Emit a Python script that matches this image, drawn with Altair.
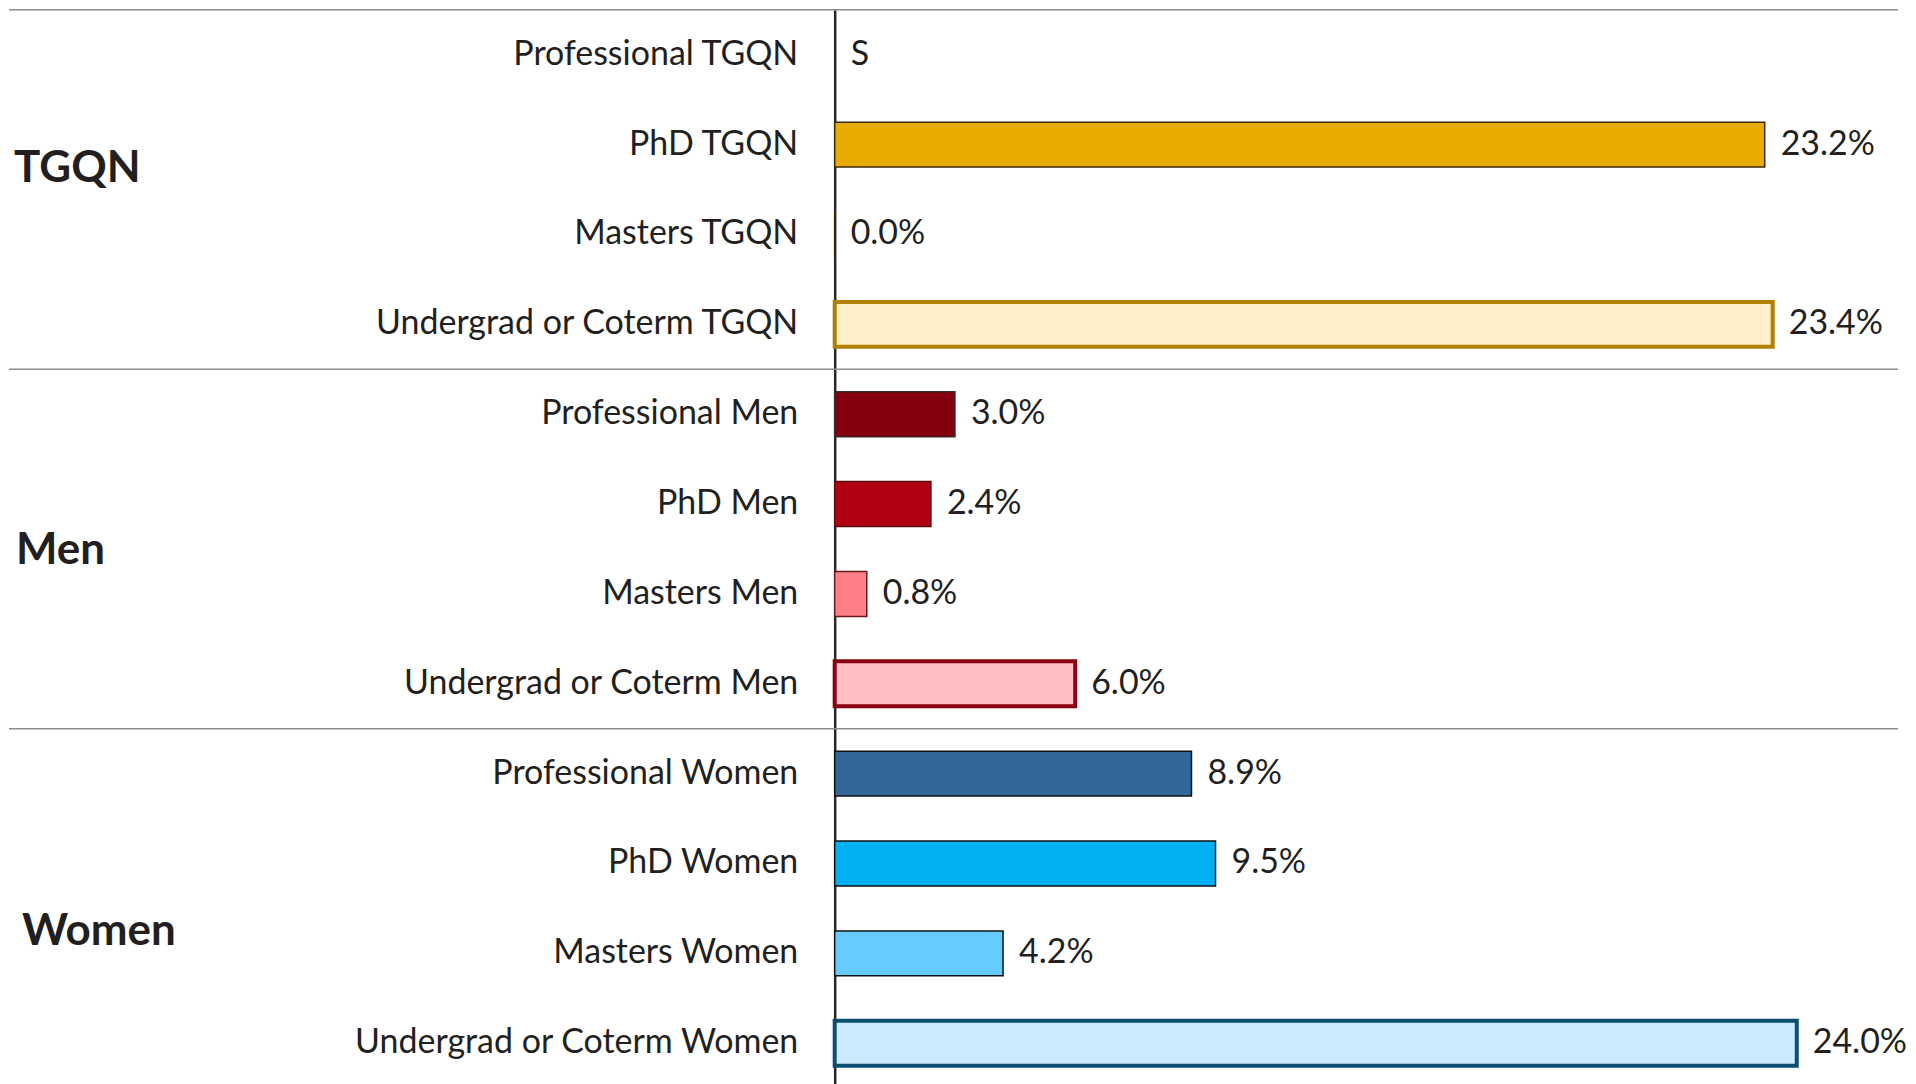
import altair as alt
import pandas as pd

# ---- data ----
groups = ["TGQN", "Men", "Women"]
levels = ["Professional", "PhD", "Masters", "Undergrad or Coterm"]
categories = [f"{lv} {g}" for g in groups for lv in levels]
values = [None, 23.2, 0.0, 23.4,
          3.0, 2.4, 0.8, 6.0,
          8.9, 9.5, 4.2, 24.0]

# ---- styles ----
fills = ["#FFFFFF", "#E8AC00", "#FFFFFF", "#FFEFC9",
         "#85000E", "#B20012", "#FF7F88", "#FFBEC3",
         "#336699", "#00B0F0", "#66CCFF", "#CCEBFF"]
strokes = ["#3A2A00", "#3A2A00", "#3A2A00", "#B08000",
           "#3A2A2A", "#5A1010", "#6A1A1A", "#8B0010",
           "#111111", "#111111", "#111111", "#0B4F70"]
TEXT = "#231F20"
FONT = "Lato"
PX_PER_PCT = 40.15
W = 1065
H = 1080
LEFT = 827
LABEL_SIZE = 34

df = pd.DataFrame({
    "category": categories,
    "group": [g for g in groups for _ in levels],
    "level": [lv for _ in groups for lv in levels],
    "value": values,
})
df["label"] = ["S" if v is None else f"{v:.1f}%" for v in values]

xscale = alt.Scale(domain=[0, W / PX_PER_PCT], nice=False, zero=True)
yscale = alt.Scale(domain=categories, paddingInner=0, paddingOuter=0)
fill_scale = alt.Scale(domain=categories, range=fills)
stroke_scale = alt.Scale(domain=categories, range=strokes)

base = alt.Chart(df)

yaxis = alt.Axis(title=None, labelFontSize=LABEL_SIZE, labelFont=FONT, labelColor=TEXT,
                 labelPadding=37, ticks=False, domainColor="#2E2626",
                 domainWidth=2.5, labelLimit=1000, grid=False)

# separator lines at the start of each group
seps = base.transform_filter(alt.datum.level == "Professional").mark_rule(
    color="#8C8C8C", strokeWidth=1.5
).encode(
    y=alt.Y("category:N", scale=yscale, axis=yaxis, bandPosition=0),
    x=alt.value(-LEFT),
    x2=alt.value(W),
)

thin_bars = base.transform_filter(
    "isValid(datum.value) && datum.level != 'Undergrad or Coterm'"
).mark_bar(height={"band": 0.5}, strokeWidth=1.5).encode(
    y=alt.Y("category:N", scale=yscale, axis=yaxis),
    x=alt.X("value:Q", scale=xscale, axis=None),
    fill=alt.Fill("category:N", scale=fill_scale, legend=None),
    stroke=alt.Stroke("category:N", scale=stroke_scale, legend=None),
)

thick_bars = base.transform_filter(
    "isValid(datum.value) && datum.level == 'Undergrad or Coterm'"
).mark_bar(height={"band": 0.5}, strokeWidth=4).encode(
    y=alt.Y("category:N", scale=yscale, axis=yaxis),
    x=alt.X("value:Q", scale=xscale, axis=None),
    fill=alt.Fill("category:N", scale=fill_scale, legend=None),
    stroke=alt.Stroke("category:N", scale=stroke_scale, legend=None),
)

value_labels = base.transform_calculate(
    xpos="isValid(datum.value) ? datum.value : 0"
).mark_text(align="left", baseline="middle", dx=16, fontSize=LABEL_SIZE,
            font=FONT, color=TEXT).encode(
    y=alt.Y("category:N", scale=yscale, axis=yaxis),
    x=alt.X("xpos:Q", scale=xscale, axis=None),
    text="label:N",
)

def group_label(name, second_cat, xpix, dy):
    d = pd.DataFrame({"category": [second_cat], "text": [name]})
    return alt.Chart(d).mark_text(
        align="left", baseline="middle", fontSize=44, fontWeight="bold",
        font=FONT, color=TEXT, dy=dy
    ).encode(
        y=alt.Y("category:N", scale=yscale, axis=yaxis, bandPosition=1),
        x=alt.value(xpix),
        text="text:N",
    )

g_tgqn = group_label(groups[0], categories[1], -822, -21)
g_men = group_label(groups[1], categories[5], -820, 2)
g_women = group_label(groups[2], categories[9], -814, 24)

chart = alt.layer(
    seps, thin_bars, thick_bars, value_labels, g_tgqn, g_men, g_women
).properties(
    width=W, height=H, padding=0
).configure_view(stroke=None)

chart.save("out.html", embed_options={"renderer": "svg", "actions": False})
